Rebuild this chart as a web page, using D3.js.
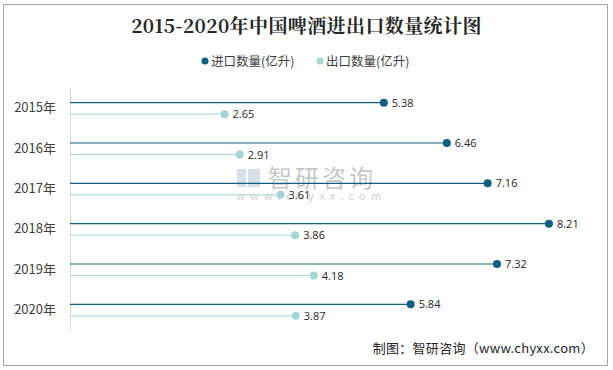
<!DOCTYPE html>
<html>
<head>
<meta charset="utf-8">
<script src="https://cdn.jsdelivr.net/npm/d3@7"></script>
<style>
  body { margin: 0; background: #fff; }
  svg { display: block; }
  text { font-family: "Noto Sans CJK SC", "Liberation Sans", sans-serif; }
</style>
</head>
<body>
<div id="chart"></div>
<script>
// data
var years = ['2015年', '2016年', '2017年', '2018年', '2019年', '2020年'];
var importVals = [5.38, 6.46, 7.16, 8.21, 7.32, 5.84];
var exportVals = [2.65, 2.91, 3.61, 3.86, 4.18, 3.87];
var seriesNames = ['进口数量(亿升)', '出口数量(亿升)'];
var colors = ['#0d5f80', '#a3d6d6'];

var W = 613, H = 370;
var margin = {top: 88, right: 18, bottom: 40, left: 70};
var width = W - margin.left - margin.right,
    height = H - margin.top - margin.bottom;

var svg = d3.select('#chart').append('svg')
  .attr('width', W)
  .attr('height', H);

// frame
svg.append('rect')
  .attr('x', 3.5).attr('y', 4.5)
  .attr('width', 604).attr('height', 361)
  .attr('fill', 'none')
  .attr('stroke', '#a6a6a6');

// title
svg.append('text')
  .attr('x', W / 2).attr('y', 33)
  .attr('text-anchor', 'middle')
  .attr('font-size', 19)
  .attr('font-weight', 'bold')
  .attr('fill', '#262626')
  .attr('letter-spacing', 0.4)
  .style('font-family', '"Noto Serif CJK SC", "DejaVu Serif", "Noto Sans CJK SC", serif')
  .text('2015-2020年中国啤酒进出口数量统计图');

// legend
var legendX = [205, 320];
seriesNames.forEach(function(name, i) {
  var g = svg.append('g').attr('transform', 'translate(' + legendX[i] + ',61)');
  g.append('circle').attr('r', 3.5).attr('cx', 0).attr('cy', 0).attr('fill', colors[i]);
  g.append('text').attr('x', 6).attr('y', 4.5)
    .attr('font-size', 12.5).attr('fill', '#404040').text(name);
});

var x = d3.scaleLinear().domain([0, 9]).range([0, width]);
var y = d3.scaleBand().domain(years).range([0, height]);

var plot = svg.append('g')
  .attr('transform', 'translate(' + margin.left + ',' + margin.top + ')');

// watermark
var wm = plot.append('g').attr('opacity', 0.55);
wm.append('rect').attr('x', 167).attr('y', 81).attr('width', 9).attr('height', 18).attr('fill', '#b8c6da');
wm.append('rect').attr('x', 178).attr('y', 81).attr('width', 12).attr('height', 18).attr('fill', '#b8c6da');
wm.append('text').attr('x', 198).attr('y', 99)
  .attr('font-size', 24).attr('fill', '#9a9a9a').attr('letter-spacing', 3).text('智研咨询');
wm.append('text').attr('x', 166).attr('y', 112)
  .attr('font-size', 11).attr('fill', '#a8a8a8').attr('letter-spacing', 5.2).text('www.chyxx.com');

// y axis
var yAxis = plot.append('g')
  .call(d3.axisLeft(y).tickSize(0).tickPadding(14));
yAxis.select('.domain').attr('stroke', '#d9d9d9');
yAxis.selectAll('text')
  .attr('font-size', 13)
  .attr('fill', '#404040')
  .style('font-family', '"Noto Sans CJK SC", sans-serif');

var off = [-5.5, 6];

function drawSeries(vals, i) {
  var g = plot.append('g');
  g.selectAll('line')
    .data(vals)
    .enter().append('line')
      .attr('x1', x(0))
      .attr('x2', function(d) { return x(d); })
      .attr('y1', function(d, j) { return y(years[j]) + y.bandwidth() / 2 + off[i]; })
      .attr('y2', function(d, j) { return y(years[j]) + y.bandwidth() / 2 + off[i]; })
      .attr('stroke', colors[i])
      .attr('stroke-width', i === 0 ? 1.2 : 1);
  g.selectAll('circle')
    .data(vals)
    .enter().append('circle')
      .attr('cx', function(d) { return x(d); })
      .attr('cy', function(d, j) { return y(years[j]) + y.bandwidth() / 2 + off[i]; })
      .attr('r', 4)
      .attr('fill', colors[i]);
  g.selectAll('text')
    .data(vals)
    .enter().append('text')
      .attr('x', function(d) { return x(d) + 8; })
      .attr('y', function(d, j) { return y(years[j]) + y.bandwidth() / 2 + off[i] + 4; })
      .attr('font-size', 11)
      .attr('fill', '#262626')
      .style('font-family', '"Open Sans", "Liberation Sans", sans-serif')
      .text(function(d) { return d.toFixed(2); });
}

drawSeries(importVals, 0);
drawSeries(exportVals, 1);

// source note
svg.append('text')
  .attr('x', 594).attr('y', 353)
  .attr('text-anchor', 'end')
  .attr('font-size', 13)
  .attr('fill', '#262626')
  .attr('letter-spacing', 0.3)
  .style('font-family', '"Noto Sans CJK SC", sans-serif')
  .text('制图：智研咨询（www.chyxx.com）');
</script>
</body>
</html>
